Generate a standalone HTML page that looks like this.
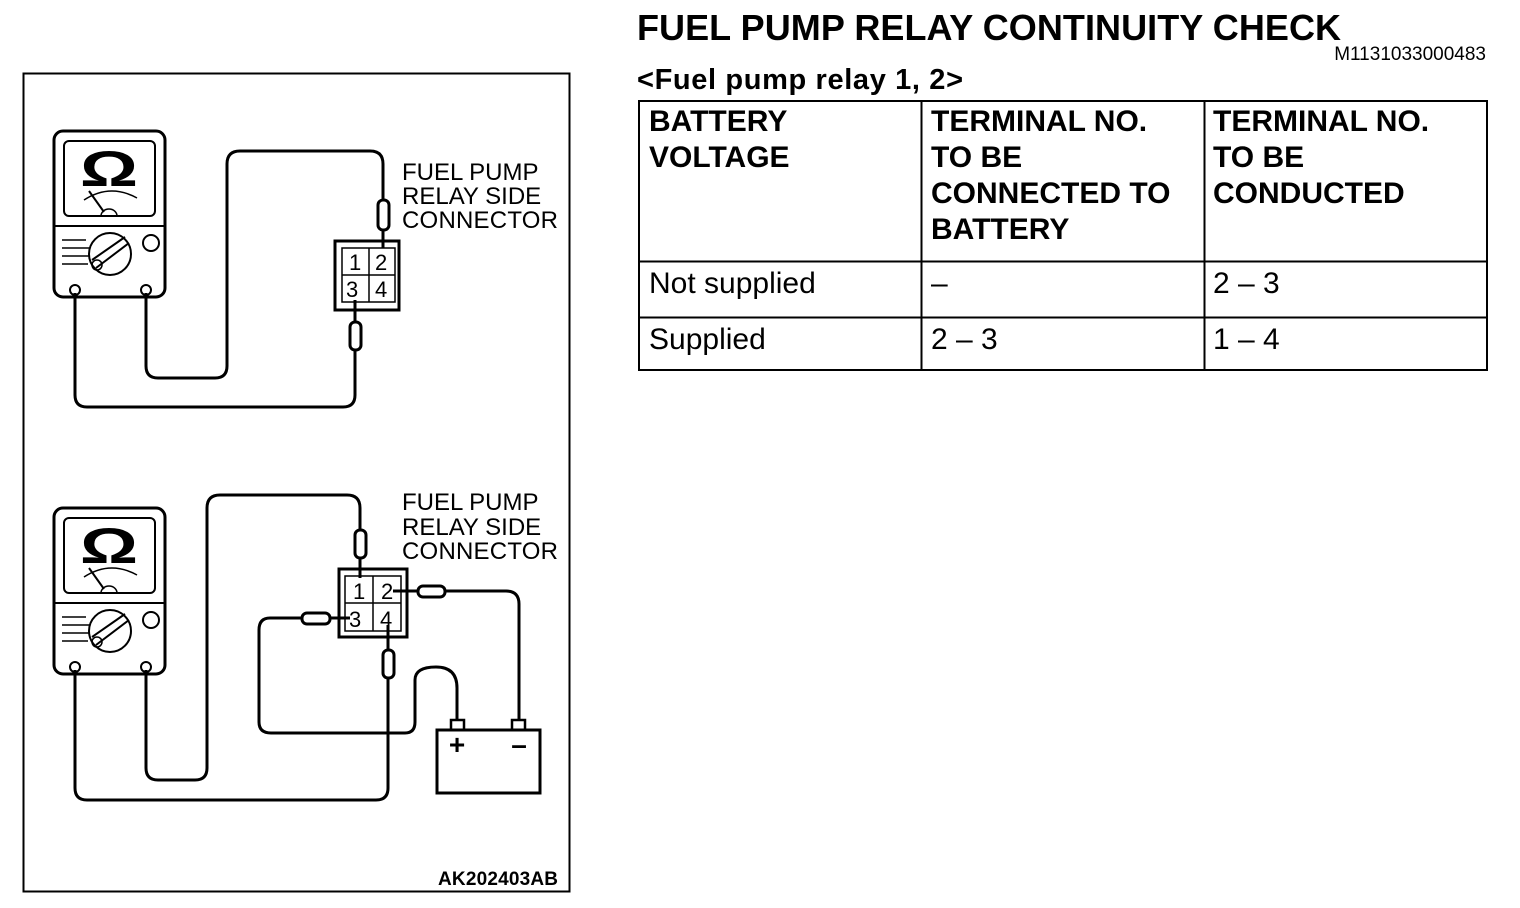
<!DOCTYPE html>
<html><head><meta charset="utf-8"><style>
html,body{margin:0;padding:0;background:#fff;}
svg{display:block;}
text{font-family:"Liberation Sans",Arial,sans-serif;fill:#000;}
</style></head><body>
<svg width="1520" height="908" viewBox="0 0 1520 908" xmlns="http://www.w3.org/2000/svg">
<defs>
<g id="meter">
  <rect x="54" y="131" width="111" height="166" rx="9" fill="none" stroke="#000" stroke-width="3"/>
  <rect x="64" y="141" width="91" height="75" rx="5" fill="none" stroke="#000" stroke-width="2"/>
  <line x1="54" y1="226" x2="165" y2="226" stroke="#000" stroke-width="2"/>
  <text x="109" y="186" font-size="50" font-weight="bold" text-anchor="middle" textLength="58" lengthAdjust="spacingAndGlyphs">Ω</text>
  <path d="M84 200 Q110 183 137 198" fill="none" stroke="#000" stroke-width="1.5"/>
  <line x1="89" y1="191" x2="104" y2="212" stroke="#000" stroke-width="2"/>
  <path d="M101 216 A8 7 0 0 1 117 216" fill="none" stroke="#000" stroke-width="1.5"/>
  <circle cx="110" cy="254" r="21" fill="none" stroke="#000" stroke-width="2"/>
  <line x1="96" y1="268" x2="129" y2="243" stroke="#000" stroke-width="2"/>
  <line x1="92" y1="260" x2="125" y2="237" stroke="#000" stroke-width="2"/>
  <circle cx="97" cy="265" r="5" fill="none" stroke="#000" stroke-width="1.5"/>
  <line x1="62" y1="240" x2="86" y2="240" stroke="#000" stroke-width="1.5"/>
  <line x1="62" y1="248" x2="90" y2="248" stroke="#000" stroke-width="1.5"/>
  <line x1="62" y1="256" x2="90" y2="256" stroke="#000" stroke-width="1.5"/>
  <line x1="62" y1="264" x2="88" y2="264" stroke="#000" stroke-width="1.5"/>
  <circle cx="151" cy="243" r="8" fill="none" stroke="#000" stroke-width="2"/>
  <circle cx="75" cy="290" r="5" fill="none" stroke="#000" stroke-width="2"/>
  <circle cx="146" cy="290" r="5" fill="none" stroke="#000" stroke-width="2"/>
</g>
</defs>

<rect x="23.5" y="73.5" width="546" height="818" fill="none" stroke="#000" stroke-width="2"/>

<use href="#meter"/>
<use href="#meter" transform="translate(0,377)"/>

<g fill="none" stroke="#000" stroke-width="3">
  <path d="M146 293 V366 Q146 378 158 378 H215 Q227 378 227 366 V164 Q227 151 240 151 H370 Q383 151 383 164 V200"/>
  <rect x="378" y="200" width="11" height="30" rx="5"/>
  <line x1="383" y1="230" x2="383" y2="248"/>
  <rect x="335" y="241" width="64" height="69" stroke-width="3"/>
  <rect x="342" y="248" width="53" height="54" stroke-width="1.5"/>
  <line x1="369" y1="248" x2="369" y2="302" stroke-width="1.5"/>
  <line x1="342" y1="275" x2="395" y2="275" stroke-width="1.5"/>
  <line x1="355" y1="300" x2="355" y2="322"/>
  <rect x="350" y="322" width="11" height="28" rx="5"/>
  <path d="M355 350 V395 Q355 407 343 407 H87 Q75 407 75 395 V293"/>

  <path d="M146 670 V768 Q146 780 158 780 H195 Q207 780 207 768 V508 Q207 495 220 495 H347 Q360 495 360 508 V530"/>
  <rect x="355" y="530" width="11" height="28" rx="5"/>
  <line x1="360" y1="558" x2="360" y2="578"/>
  <rect x="339" y="569" width="68" height="68"/>
  <rect x="345" y="576" width="56" height="55" stroke-width="1.5"/>
  <line x1="373" y1="576" x2="373" y2="631" stroke-width="1.5"/>
  <line x1="345" y1="603" x2="401" y2="603" stroke-width="1.5"/>
  <line x1="393" y1="591" x2="418" y2="591"/>
  <rect x="418" y="586" width="27" height="11" rx="5"/>
  <path d="M445 591 H506 Q519 591 519 604 V720"/>
  <line x1="330" y1="618" x2="350" y2="618"/>
  <rect x="302" y="613" width="28" height="11" rx="5"/>
  <path d="M302 618 H270 Q259 618 259 630 V722 Q259 733 271 733 H405 Q415 733 415 722 V680 Q415 667 436 667 Q457 667 457 688 V720"/>
  <line x1="388" y1="625" x2="388" y2="650"/>
  <rect x="383" y="650" width="11" height="28" rx="5"/>
  <path d="M388 678 V788 Q388 800 376 800 H87 Q75 800 75 788 V670"/>
  <rect x="437" y="730" width="103" height="63"/>
  <rect x="451" y="720" width="13" height="10" stroke-width="2.5"/>
  <rect x="512" y="720" width="13" height="10" stroke-width="2.5"/>
</g>
<text x="457" y="754" font-size="28" font-weight="bold" text-anchor="middle">+</text>
<text x="519" y="754" font-size="28" font-weight="bold" text-anchor="middle">–</text>

<g font-size="22">
  <text x="349" y="270">1</text>
  <text x="375" y="270">2</text>
  <text x="346" y="297">3</text>
  <text x="375" y="297">4</text>
  <text x="353" y="599">1</text>
  <text x="381" y="599">2</text>
  <text x="349" y="627">3</text>
  <text x="380" y="627">4</text>
</g>
<g font-size="24">
  <text x="402" y="180">FUEL PUMP</text>
  <text x="402" y="204">RELAY SIDE</text>
  <text x="402" y="228" textLength="156">CONNECTOR</text>
  <text x="402" y="510">FUEL PUMP</text>
  <text x="402" y="535">RELAY SIDE</text>
  <text x="402" y="559" textLength="156">CONNECTOR</text>
</g>
<text x="438" y="885" font-size="19" font-weight="bold" textLength="120">AK202403AB</text>

<text x="637" y="40" font-size="36" font-weight="bold" textLength="704">FUEL PUMP RELAY CONTINUITY CHECK</text>
<text x="1486" y="60" font-size="19" text-anchor="end">M1131033000483</text>
<text x="637" y="89" font-size="29" font-weight="bold" textLength="326">&lt;Fuel pump relay 1, 2&gt;</text>

<g fill="none" stroke="#000" stroke-width="2">
  <rect x="639" y="101" width="848" height="269"/>
  <line x1="921.5" y1="101" x2="921.5" y2="370"/>
  <line x1="1204.5" y1="101" x2="1204.5" y2="370"/>
  <line x1="639" y1="261.5" x2="1487" y2="261.5"/>
  <line x1="639" y1="317.5" x2="1487" y2="317.5"/>
</g>
<g font-size="30" font-weight="bold">
  <text x="649" y="131">BATTERY</text>
  <text x="649" y="167">VOLTAGE</text>
  <text x="931" y="131">TERMINAL NO.</text>
  <text x="931" y="167">TO BE</text>
  <text x="931" y="203">CONNECTED TO</text>
  <text x="931" y="239">BATTERY</text>
  <text x="1213" y="131">TERMINAL NO.</text>
  <text x="1213" y="167">TO BE</text>
  <text x="1213" y="203">CONDUCTED</text>
</g>
<g font-size="30">
  <text x="649" y="293">Not supplied</text>
  <text x="931" y="293">–</text>
  <text x="1213" y="293">2 – 3</text>
  <text x="649" y="349">Supplied</text>
  <text x="931" y="349">2 – 3</text>
  <text x="1213" y="349">1 – 4</text>
</g>
</svg>
</body></html>
